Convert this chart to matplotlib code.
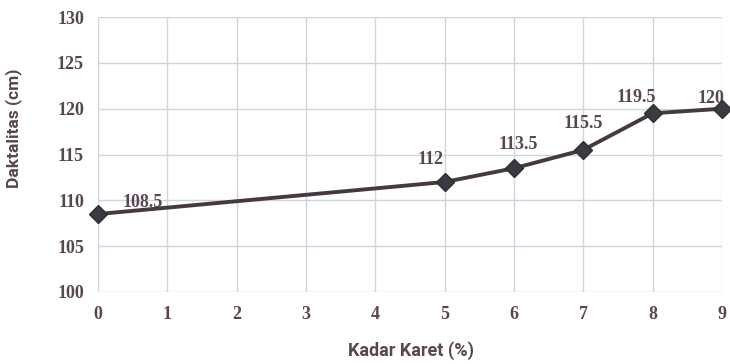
import matplotlib
matplotlib.use('Agg')
import matplotlib.pyplot as plt

kadar = [0, 5, 6, 7, 8, 9]
daktilitas = [108.5, 112, 113.5, 115.5, 119.5, 120]
labels = ['108.5', '112', '113.5', '115.5', '119.5', '120']
# label offsets in points (dx, dy)
offsets = [(32, 2), (-10, 10), (3, 11), (0, 13), (-12, 5), (-8, 1)]

txt = '#584650'

fig = plt.figure(figsize=(7.3, 3.64), dpi=100)
ax = fig.add_axes([0.134, 0.198, 0.855, 0.755])

ax.plot(kadar, daktilitas, color='#463a3e', lw=2.8, zorder=3)
ax.plot(kadar, daktilitas, ls='none', marker='D', ms=9, color='#3a3a40',
        markeredgecolor='#2e2e34', zorder=4, clip_on=False)

for x, y, s, (dx, dy) in zip(kadar, daktilitas, labels, offsets):
    ax.annotate(s, (x, y), xytext=(dx, dy), textcoords='offset points',
                ha='center', va='bottom', fontsize=13, color=txt,
                family='Liberation Serif', fontweight='bold')

ax.set_xlim(0, 9)
ax.set_ylim(100, 130)
ax.set_xticks(range(10))
ax.set_yticks(range(100, 131, 5))
ax.grid(True, color='#d0d4df', lw=1)
ax.set_axisbelow(True)
for sp in ax.spines.values():
    sp.set_visible(False)
ax.tick_params(length=0, pad=10, labelsize=13, labelcolor=txt)
for t in ax.get_xticklabels() + ax.get_yticklabels():
    t.set_family('Liberation Serif')
    t.set_fontweight('bold')

ax.set_xlabel('Kadar Karet (%)', fontsize=13, fontweight='bold', color=txt,
              family='Roboto')
ax.set_ylabel('Daktalitas (cm)', fontsize=12.5, fontweight='bold', color=txt,
              family='Roboto')
ax.xaxis.set_label_coords(0.502, -0.18)
ax.yaxis.set_label_coords(-0.122, 0.596)

fig.savefig('out.png', dpi=100)
